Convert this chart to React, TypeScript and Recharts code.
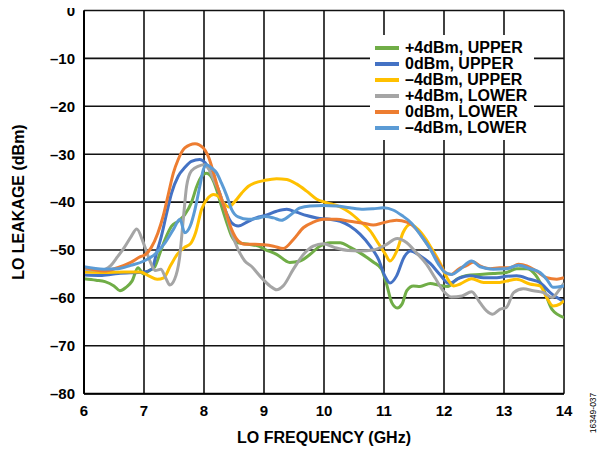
import React from 'react';
import { LineChart, Line, XAxis, YAxis, CartesianGrid, Legend } from 'recharts';

const FONT = '"Liberation Sans", Arial, Helvetica, sans-serif';

const xTicks = [6, 7, 8, 9, 10, 11, 12, 13, 14];
const yTicks = [0, -10, -20, -30, -40, -50, -60, -70, -80];

const seriesNames = [
  '+4dBm, UPPER',
  '0dBm, UPPER',
  '\u20134dBm, UPPER',
  '+4dBm, LOWER',
  '0dBm, LOWER',
  '\u20134dBm, LOWER',
];
const seriesColors = ['#70AD47', '#4472C4', '#FFC000', '#A5A5A5', '#ED7D31', '#5B9BD5'];

// +4dBm, UPPER
const greenFreq = [6.0, 6.2, 6.35, 6.5, 6.6, 6.7, 6.8, 6.9, 6.99, 7.1, 7.18, 7.27, 7.35, 7.46, 7.57, 7.68, 7.79, 7.88, 7.96, 8.04, 8.13, 8.21, 8.29, 8.38, 8.46, 8.57, 8.74, 8.91, 9.02, 9.21, 9.43, 9.6, 9.77, 9.93, 10.1, 10.27, 10.43, 10.6, 10.82, 10.96, 11.04, 11.13, 11.22, 11.3, 11.38, 11.49, 11.6, 11.77, 11.93, 12.07, 12.21, 12.38, 12.6, 12.82, 13.04, 13.21, 13.38, 13.52, 13.66, 13.8, 14.0];
const greenVal = [-56.0, -56.3, -56.6, -57.5, -58.5, -57.8, -56.5, -53.7, -55.0, -54.2, -53.5, -50.5, -47.8, -45.0, -44.0, -42.6, -40.1, -36.7, -34.6, -34.0, -34.9, -37.4, -40.8, -44.3, -47.1, -48.5, -48.8, -49.2, -49.9, -50.9, -52.6, -52.3, -50.9, -49.2, -48.5, -48.5, -49.4, -50.6, -52.5, -54.0, -57.0, -61.0, -62.1, -61.3, -58.5, -57.5, -57.6, -57.0, -57.4, -57.6, -56.1, -55.3, -55.1, -54.9, -54.7, -53.9, -53.9, -55.1, -58.2, -62.4, -64.1];

// 0dBm, UPPER
const blueFreq = [6.0, 6.3, 6.57, 7.0, 7.13, 7.21, 7.29, 7.38, 7.46, 7.57, 7.68, 7.79, 7.93, 8.02, 8.13, 8.24, 8.35, 8.46, 8.57, 8.74, 8.91, 9.02, 9.21, 9.38, 9.54, 9.71, 9.88, 10.1, 10.27, 10.43, 10.6, 10.77, 10.91, 11.02, 11.1, 11.21, 11.33, 11.44, 11.6, 11.77, 11.93, 12.08, 12.27, 12.43, 12.66, 12.88, 13.04, 13.21, 13.43, 13.6, 13.77, 14.0];
const blueVal = [-55.2, -55.3, -54.9, -54.6, -54.0, -50.6, -47.1, -42.2, -38.1, -34.6, -32.8, -31.5, -31.1, -31.8, -34.2, -37.4, -41.5, -44.3, -45.0, -44.0, -43.1, -42.8, -41.9, -41.5, -42.1, -42.8, -43.3, -43.6, -44.0, -45.0, -46.7, -49.2, -52.0, -55.6, -56.9, -55.4, -51.6, -50.2, -51.2, -52.8, -55.1, -57.0, -55.8, -55.4, -55.8, -55.8, -55.5, -55.4, -56.1, -56.8, -58.9, -60.8];

// -4dBm, UPPER
const yellowFreq = [6.0, 6.33, 6.67, 6.94, 7.08, 7.22, 7.33, 7.44, 7.56, 7.67, 7.78, 7.86, 7.96, 8.07, 8.16, 8.24, 8.32, 8.41, 8.52, 8.63, 8.74, 8.85, 9.0, 9.21, 9.38, 9.54, 9.71, 9.88, 10.04, 10.27, 10.43, 10.6, 10.77, 10.91, 11.02, 11.1, 11.21, 11.32, 11.44, 11.56, 11.7, 11.77, 11.93, 12.05, 12.16, 12.27, 12.46, 12.66, 12.88, 13.04, 13.21, 13.43, 13.6, 13.71, 13.82, 13.93, 14.0];
const yellowVal = [-54.6, -54.7, -54.6, -54.6, -55.4, -56.1, -55.8, -53.3, -50.8, -49.5, -48.6, -46.4, -41.5, -39.1, -38.4, -38.8, -40.1, -41.0, -39.8, -38.1, -36.7, -36.0, -35.5, -35.1, -35.3, -36.2, -37.7, -39.4, -40.1, -41.0, -42.2, -44.0, -46.0, -48.7, -50.8, -52.3, -50.3, -46.3, -44.6, -45.6, -47.8, -49.2, -52.6, -55.8, -57.5, -57.1, -56.0, -56.8, -56.8, -56.5, -56.1, -57.1, -57.5, -59.9, -61.7, -61.3, -60.6];

// +4dBm, LOWER
const grayFreq = [6.0, 6.28, 6.44, 6.56, 6.67, 6.78, 6.88, 6.99, 7.1, 7.19, 7.28, 7.36, 7.43, 7.51, 7.59, 7.66, 7.71, 7.79, 7.91, 7.99, 8.07, 8.16, 8.24, 8.35, 8.46, 8.57, 8.68, 8.79, 8.93, 9.1, 9.21, 9.32, 9.49, 9.66, 9.82, 9.99, 10.18, 10.4, 10.6, 10.82, 11.02, 11.22, 11.38, 11.54, 11.71, 11.85, 12.0, 12.12, 12.3, 12.46, 12.6, 12.71, 12.81, 12.93, 13.04, 13.16, 13.32, 13.49, 13.66, 13.8, 13.91, 14.0];
const grayVal = [-54.0, -54.2, -53.3, -51.4, -49.5, -47.3, -45.6, -48.5, -52.3, -54.3, -54.0, -55.8, -57.3, -56.1, -51.9, -42.9, -36.7, -33.5, -32.5, -32.2, -32.9, -35.3, -37.4, -41.5, -46.4, -49.9, -52.3, -53.4, -55.4, -57.5, -58.3, -57.5, -54.0, -50.9, -49.2, -48.7, -49.5, -50.1, -50.2, -50.0, -49.0, -47.6, -48.5, -50.6, -53.0, -55.8, -58.7, -59.8, -59.6, -58.7, -61.0, -62.7, -63.4, -62.4, -62.0, -58.9, -58.1, -58.5, -58.9, -59.9, -58.5, -56.9];

// 0dBm, LOWER
const orangeFreq = [6.0, 6.33, 6.56, 6.78, 6.94, 7.02, 7.12, 7.23, 7.32, 7.41, 7.49, 7.57, 7.68, 7.85, 7.99, 8.07, 8.16, 8.24, 8.35, 8.46, 8.57, 8.68, 8.85, 9.0, 9.16, 9.32, 9.49, 9.66, 9.82, 9.99, 10.21, 10.43, 10.66, 10.82, 10.99, 11.21, 11.38, 11.52, 11.71, 11.88, 12.02, 12.12, 12.24, 12.38, 12.49, 12.6, 12.77, 12.93, 13.1, 13.24, 13.38, 13.54, 13.71, 13.88, 14.0];
const orangeVal = [-53.6, -54.4, -53.7, -52.6, -51.4, -51.0, -49.5, -46.5, -42.9, -38.1, -33.9, -31.1, -28.7, -27.8, -28.7, -30.4, -33.9, -37.4, -41.5, -45.7, -48.1, -48.8, -48.8, -48.9, -49.2, -49.7, -47.8, -45.3, -44.2, -43.6, -43.6, -44.0, -44.4, -44.8, -44.3, -43.8, -44.2, -45.4, -48.6, -51.9, -54.7, -55.1, -54.0, -53.2, -52.5, -53.3, -53.9, -53.7, -53.7, -53.0, -53.3, -54.4, -55.8, -56.1, -55.8];

// -4dBm, LOWER
const lightBlueFreq = [6.0, 6.33, 6.56, 6.78, 7.0, 7.18, 7.35, 7.49, 7.6, 7.68, 7.77, 7.85, 7.93, 7.99, 8.04, 8.13, 8.21, 8.29, 8.38, 8.46, 8.57, 8.74, 8.91, 9.02, 9.16, 9.29, 9.43, 9.6, 9.77, 9.99, 10.21, 10.43, 10.66, 10.82, 10.99, 11.16, 11.3, 11.45, 11.6, 11.77, 11.91, 12.02, 12.13, 12.27, 12.46, 12.6, 12.82, 13.04, 13.24, 13.43, 13.6, 13.71, 13.82, 14.0];
const lightBlueVal = [-53.5, -54.0, -53.9, -53.2, -52.3, -50.9, -48.5, -45.7, -43.6, -46.4, -45.0, -41.5, -36.7, -33.2, -32.2, -32.9, -33.9, -36.0, -38.7, -41.5, -43.1, -43.6, -43.3, -43.0, -43.3, -43.8, -42.8, -41.2, -40.8, -40.7, -40.8, -41.2, -41.5, -41.4, -41.2, -41.7, -42.8, -44.3, -46.7, -49.8, -53.0, -54.7, -55.1, -54.0, -52.3, -53.5, -54.0, -53.9, -53.2, -53.9, -54.7, -56.1, -57.8, -57.5];

const toPoints = (freqs: number[], vals: number[]) => freqs.map((f, i) => ({ f, v: vals[i] }));

const seriesData = [
  toPoints(greenFreq, greenVal),
  toPoints(blueFreq, blueVal),
  toPoints(yellowFreq, yellowVal),
  toPoints(grayFreq, grayVal),
  toPoints(orangeFreq, orangeVal),
  toPoints(lightBlueFreq, lightBlueVal),
];

const fmtTick = (v: number) => String(v).replace('-', '\u2013');

const tickStyle = { fill: '#000', fontSize: 15, fontWeight: 'bold', fontFamily: FONT };
const labelStyle = { fill: '#000', fontSize: 16, fontWeight: 'bold', fontFamily: FONT, textAnchor: 'middle' as const };

const LegendBox = () => (
  <div
    style={{
      background: '#fff',
      width: 164,
      height: 105,
      boxSizing: 'border-box',
      paddingTop: 5,
      paddingLeft: 5,
      fontFamily: FONT,
      fontWeight: 'bold',
      fontSize: 16,
      color: '#000',
    }}
  >
    {seriesNames.map((name, i) => (
      <div key={name} style={{ display: 'flex', alignItems: 'center', height: 16, lineHeight: '16px', whiteSpace: 'nowrap' }}>
        <span style={{ display: 'inline-block', width: 24, height: 3.5, background: seriesColors[i], marginRight: 6 }} />
        <span>{name}</span>
      </div>
    ))}
  </div>
);

export default function App() {
  return (
    <div style={{ position: 'relative', width: 609, height: 450, marginTop: -8, marginLeft: -8 }}>
      <LineChart width={609} height={450} margin={{ top: 10.5, right: 45, bottom: 2.3, left: 0 }}>
        <CartesianGrid stroke="#111" strokeWidth={1.6} />
        <XAxis
          type="number"
          dataKey="f"
          domain={[6, 14]}
          ticks={xTicks}
          interval={0}
          allowDataOverflow
          tickSize={0}
          tickMargin={12}
          height={54}
          axisLine={{ stroke: '#000', strokeWidth: 2 }}
          tick={tickStyle}
          label={{ value: 'LO FREQUENCY (GHz)', position: 'insideBottom', offset: 5, style: labelStyle }}
        />
        <YAxis
          type="number"
          domain={[-80, 0]}
          ticks={yTicks}
          interval={0}
          allowDataOverflow
          width={84}
          tickSize={0}
          tickMargin={9}
          tickFormatter={fmtTick}
          axisLine={{ stroke: '#000', strokeWidth: 2 }}
          tick={tickStyle}
          label={{ value: 'LO LEAKAGE (dBm)', angle: -90, position: 'insideLeft', offset: 18, style: labelStyle }}
        />
        <Legend
          layout="vertical"
          align="center"
          verticalAlign="middle"
          content={() => <LegendBox />}
          wrapperStyle={{ left: 370, top: 35, width: 164, height: 105 }}
        />
        {seriesData.map((d, i) => (
          <Line
            key={seriesNames[i]}
            data={d}
            dataKey="v"
            name={seriesNames[i]}
            type="monotone"
            stroke={seriesColors[i]}
            strokeWidth={3}
            dot={false}
            activeDot={false}
            isAnimationActive={false}
          />
        ))}
      </LineChart>
      <div
        style={{
          position: 'absolute',
          left: 563,
          top: 407.5,
          width: 60,
          height: 10,
          lineHeight: '10px',
          textAlign: 'center',
          fontFamily: FONT,
          fontSize: 8.5,
          color: '#000',
          transform: 'rotate(-90deg)',
        }}
      >
        16349-037
      </div>
    </div>
  );
}
